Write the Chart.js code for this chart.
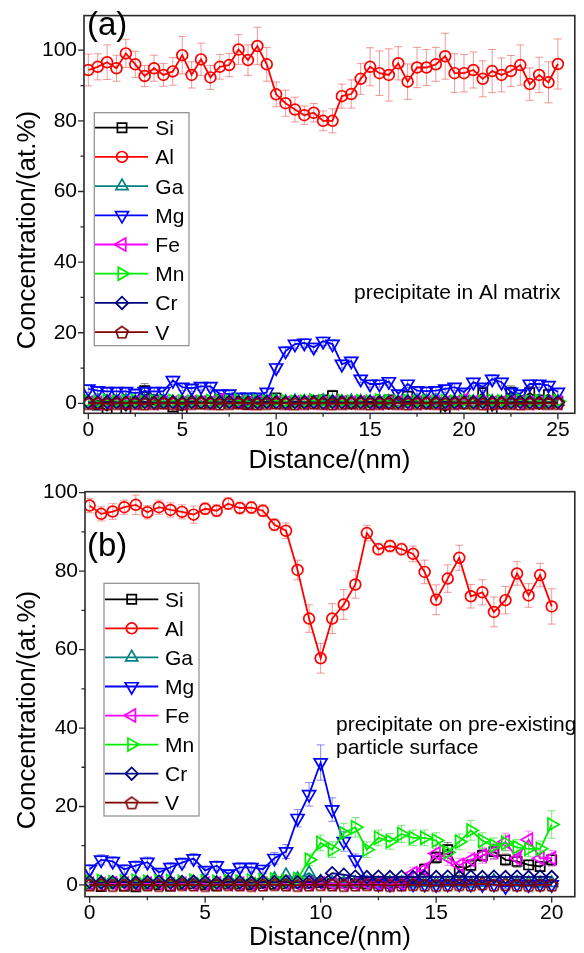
<!DOCTYPE html>
<html>
<head>
<meta charset="utf-8">
<title>Concentration profiles</title>
<script src="https://cdn.jsdelivr.net/npm/chart.js@4.4.1/dist/chart.umd.min.js"></script>
<style>
  html, body { margin: 0; padding: 0; background: #fff; }
  #wrap { position: relative; width: 584px; height: 953px; }
  .panel { position: absolute; left: 0; width: 584px; }
  #pa { top: 0; height: 476px; }
  #pb { top: 476px; height: 477px; }
  canvas { display: block; }
</style>
</head>
<body>
<div id="wrap">
  <div class="panel" id="pa"><canvas id="ca" width="584" height="476"></canvas></div>
  <div class="panel" id="pb"><canvas id="cb" width="584" height="477"></canvas></div>
</div>
<script>
// ---------- data: panel (a), precipitate in Al matrix ----------
const distA = [0,0.5,1,1.5,2,2.5,3,3.5,4,4.5,5,5.5,6,6.5,7,7.5,8,8.5,9,9.5,10,10.5,11,11.5,12,12.5,13,13.5,14,14.5,15,15.5,16,16.5,17,17.5,18,18.5,19,19.5,20,20.5,21,21.5,22,22.5,23,23.5,24,24.5,25];
const siA = [0.5,-0.5,-2.0,0.3,-2.0,0.5,3.6,1.0,0.2,-1.0, -2.0,0.4,0.6,0.2,1.2,0.3,0.1,-0.3,0.2,0.5, 1.5,0.2,0.4,0.3,0.8,1.0,2.2,0.6,0.3,0.5, 0.4,0.2,1.0,0.3,2.0,0.6,0.4,0.3,-2.2,0.5, 0.8,0.3,3.0,-2.0,0.5,3.2,0.8,3.0,1.0,2.5, 0.5];
const siAErr = [1.2,1.0,1.5,1.0,1.5,1.0,2.0,1.2,1.0,1.2, 1.5,1.0,1.2,1.0,1.2,1.0,1.0,1.2,1.0,1.0, 1.5,1.0,1.2,1.0,1.2,1.2,1.5,1.0,1.0,1.2, 1.0,1.0,1.2,1.0,1.5,1.0,1.0,1.0,1.5,1.0, 1.2,1.0,1.8,1.5,1.0,1.8,1.2,1.8,1.2,1.5, 1.0];
const alA = [94.4,95.3,96.6,94.9,99.1,96.0,92.7,94.9,93.0,94.0, 98.6,93.0,97.4,92.3,95.3,95.8,100.2,97.2,101.2,96.0, 87.5,85.0,83.2,81.6,82.3,80.0,80.0,87.0,87.6,91.9, 95.3,93.5,93.0,96.3,91.1,95.1,95.1,96.0,98.3,93.5, 93.5,94.4,91.9,94.1,93.0,94.1,95.8,90.4,93.0,90.9, 96.1];
const alAErr = [4.5,3.7,4.9,3.7,4.0,3.7,3.0,3.7,3.2,3.9, 5.3,3.7,4.6,3.4,3.5,3.3,4.2,4.3,5.3,4.8, 3.5,3.7,3.5,2.6,2.6,2.8,3.4,3.4,4.0,4.4, 5.4,6.3,7.4,4.7,5.0,5.7,5.1,4.8,6.5,5.5, 5.3,5.1,5.1,6.1,4.8,4.4,5.7,4.6,5.0,5.8, 7.1];
const gaA = [0.4,0.6,0.3,0.5,0.7,0.4,0.5,0.3,0.6,0.4, 0.5,0.7,0.4,0.3,0.6,0.5,0.4,0.6,0.3,0.5, 0.8,0.4,0.6,0.5,0.3,0.7,0.5,0.4,0.6,0.5, 0.4,0.6,0.5,0.3,0.7,0.4,0.5,0.6,0.4,0.5, 0.6,0.4,0.7,0.5,0.3,0.6,0.4,0.5,0.6,0.4, 0.5];
const mgA = [4.1,3.6,3.4,3.4,3.4,2.9,3.4,3.4,3.4,6.5, 4.6,4.3,4.8,4.8,2.7,2.7,1.8,1.8,1.8,3.2, 10.1,14.8,16.8,17.1,15.9,17.6,16.8,11.1,12.0,6.9, 5.5,5.5,6.2,2.7,5.5,3.6,3.5,3.6,4.1,4.6, 3.2,6.0,4.6,6.9,6.0,3.2,2.7,5.5,5.5,5.1, 3.2];
const mgAErr = [1.0,0.9,0.9,1.0,0.9,0.8,0.9,1.0,0.9,1.2, 1.0,0.9,1.1,1.0,0.8,0.8,0.7,0.7,0.7,0.9, 1.2,1.3,1.2,1.2,1.2,1.2,1.2,1.1,1.1,1.0, 0.9,0.9,1.0,0.8,1.0,0.9,0.9,0.9,1.0,1.0, 0.9,1.1,1.0,1.2,1.1,0.9,0.8,1.0,1.0,1.0, 0.9];
const feA = [0.2,0.1,0.3,0.2,0.1,0.2,0.3,0.1,0.2,0.2, 0.1,0.3,0.2,0.2,1.0,0.3,0.2,0.1,0.2,0.3, 0.2,0.1,0.3,0.2,0.2,0.1,0.3,0.2,0.2,0.3, 0.2,0.1,0.2,0.3,0.2,0.1,0.2,0.3,0.2,0.1, 1.0,0.3,0.2,0.1,0.2,0.3,0.2,0.1,0.2,0.3, 0.2];
const mnA = [0.6,0.4,0.8,0.5,0.6,0.7,0.4,0.6,0.5,0.7, 0.6,0.5,0.4,0.7,0.6,0.5,0.8,0.4,0.6,0.5, 0.7,0.6,0.4,0.5,0.8,0.6,0.5,0.7,0.4,0.6, 0.5,0.8,0.6,0.4,0.7,0.5,0.6,0.4,0.7,0.5, 0.6,0.4,0.5,0.7,0.6,0.4,0.8,0.5,0.6,0.4, 0.6];
const crA = [0.3,0.2,0.4,0.3,0.2,0.3,0.4,0.2,0.3,0.3, 0.2,0.4,0.3,0.2,0.3,0.4,0.3,0.2,0.3,0.4, 0.3,0.2,0.4,0.3,0.3,0.2,0.4,0.3,0.2,0.3, 0.4,0.3,0.2,0.3,0.4,0.3,0.2,0.3,0.4,0.3, 0.2,0.3,0.4,0.3,0.2,0.3,0.4,0.3,0.2,0.3, 0.3];
const vA = [0.0,0.1,-0.1,0.0,0.1,0.0,-0.1,0.0,0.1,0.0, -0.1,0.0,0.1,0.0,-0.1,0.0,0.1,0.0,-0.1,0.0, 0.1,0.0,-0.1,0.0,0.1,0.0,-0.1,0.0,0.1,0.0, -0.1,0.0,0.1,0.0,-0.1,0.0,0.1,0.0,-0.1,0.0, 0.1,0.0,-0.1,0.0,0.1,0.0,-0.1,0.0,0.1,0.0, 0.0];

// ---------- data: panel (b), precipitate on pre-existing particle surface ----------
const distB = [0,0.5,1,1.5,2,2.5,3,3.5,4,4.5,5,5.5,6,6.5,7,7.5,8,8.5,9,9.5,10,10.5,11,11.5,12,12.5,13,13.5,14,14.5,15,15.5,16,16.5,17,17.5,18,18.5,19,19.5,20];
const siB = [0.2,-0.4,0.3,-0.3,-0.5,0.2,0.1,-0.3,0.2,0.3, 0.1,-0.2,0.3,0.2,0.1,0.4,0.2,0.3,0.5,0.4, 0.6,0.3,0.5,0.4,0.3,0.5,0.4,0.6,0.8,4.0, 7.0,9.0,3.4,5.0,7.5,8.5,6.4,6.0,5.1,4.7, 6.4];
const siBErr = [0.4,0.4,0.4,0.4,0.4,0.4,0.4,0.4,0.4,0.4, 0.4,0.4,0.4,0.4,0.4,0.4,0.4,0.4,0.4,0.4, 0.4,0.4,0.4,0.4,0.4,0.4,0.4,0.4,0.6,1.2, 1.5,1.8,1.2,1.5,1.5,1.8,1.5,1.5,1.2,1.2, 1.5];
const alB = [96.7,94.6,95.2,96.3,96.9,95.0,96.3,95.6,95.1,94.4, 95.9,95.4,97.2,96.1,96.2,95.4,91.8,90.3,80.3,67.9, 57.8,67.9,71.5,76.6,89.7,85.6,86.4,85.6,84.4,79.8, 72.7,78.1,83.4,73.6,74.6,69.6,72.6,79.4,73.8,79.0, 71.0];
const alBErr = [1.8,1.8,2.0,1.8,2.5,1.7,1.8,1.8,1.8,2.2, 1.5,1.5,1.5,1.5,1.5,1.5,1.5,2.0,2.5,3.5, 3.8,3.8,3.8,3.5,2.0,1.5,1.5,1.5,2.0,3.0, 3.8,3.5,3.2,3.0,3.2,3.8,3.5,3.0,3.0,3.0, 4.5];
const gaB = [0.5,0.6,0.4,0.5,0.6,0.5,0.4,0.6,0.5,0.6, 0.5,0.4,0.6,0.5,0.5,0.6,1.5,2.5,1.5,3.0, 0.8,0.6,0.5,0.6,0.5,0.4,0.6,0.5,0.5,0.6, 0.5,0.6,0.5,0.4,0.6,1.0,0.5,0.6,0.5,0.4, 0.5];
const mgB = [4.0,6.4,6.0,4.0,4.9,5.8,3.2,4.5,5.7,6.7, 3.7,4.9,2.8,4.5,4.5,4.0,6.8,8.5,17.0,23.1, 31.2,19.2,11.1,6.4,1.2,0.3,0.2,0.4,0.3,0.2, 0.1,0.2,0.3,0.2,0.1,0.2,-0.4,0.2,0.1,0.2, 0.1];
const mgBErr = [1.2,1.3,1.2,1.2,1.2,1.3,1.0,1.2,1.2,1.3, 1.0,1.2,1.0,1.2,1.2,1.0,1.5,1.8,2.2,3.0, 4.5,3.0,2.5,1.5,0.5,0.5,0.5,0.5,0.5,0.5, 0.5,0.5,0.5,0.5,0.5,0.5,0.5,0.5,0.5,0.5, 0.5];
const feB = [0.3,0.2,0.4,0.3,0.2,0.3,0.4,0.2,0.3,0.2, 0.3,0.4,0.2,0.3,0.2,0.3,0.4,0.3,0.2,0.3, 0.4,0.3,0.2,0.3,0.4,0.3,0.2,0.3,3.0,4.0, 8.0,7.0,5.0,6.4,7.5,8.5,11.0,6.8,11.5,6.8, 6.8];
const feBErr = [0.3,0.3,0.3,0.3,0.3,0.3,0.3,0.3,0.3,0.3, 0.3,0.3,0.3,0.3,0.3,0.3,0.3,0.3,0.3,0.3, 0.3,0.3,0.3,0.3,0.3,0.3,0.3,0.3,1.5,1.5, 2.0,2.0,1.8,1.8,2.0,2.0,2.2,1.8,2.2,2.0, 2.0];
const mnB = [0.8,1.0,0.7,0.9,1.1,0.8,0.9,1.0,0.8,1.1, 0.9,0.8,1.0,0.9,1.1,1.2,1.4,1.0,1.5,6.4, 10.7,9.0,13.2,14.7,9.0,12.0,11.1,13.0,12.0,12.0, 11.3,8.3,11.0,13.9,11.3,10.0,10.7,9.6,9.2,9.2, 15.4];
const mnBErr = [0.5,0.5,0.5,0.5,0.5,0.5,0.5,0.5,0.5,0.5, 0.5,0.5,0.5,0.5,0.5,0.5,0.6,0.6,0.8,1.5, 2.0,2.0,2.5,2.5,2.0,2.0,2.0,2.2,2.0,2.0, 2.0,2.0,2.0,2.5,2.0,2.0,2.0,2.0,2.0,2.0, 3.5];
const crB = [0.8,0.6,0.7,0.8,0.6,0.7,0.8,0.6,0.7,0.8, 0.7,0.6,0.8,0.7,0.6,0.8,0.7,0.8,0.7,0.8, 0.9,3.0,2.6,2.1,2.0,2.1,2.0,2.1,2.0,2.1, 2.0,2.1,2.0,2.1,2.0,2.1,2.0,2.1,2.0,2.1, 2.0];
const vB = [0.0,0.1,-0.1,0.0,0.1,0.0,-0.1,0.0,0.1,0.0, -0.1,0.0,0.1,0.0,-0.1,0.0,0.1,0.0,-0.1,0.0, 0.1,0.0,-0.1,0.0,0.1,0.0,-0.1,0.0,0.1,0.0, -0.1,0.0,0.1,0.0,0.3,0.0,0.1,0.0,-0.1,0.0, 0.0];

// ---------- series order and appearance ----------
const elements = ['Si', 'Al', 'Ga', 'Mg', 'Fe', 'Mn', 'Cr', 'V'];

function pentagonMarker(color, r, lw) {
  const s = Math.ceil(2 * r + 2 * lw + 2);
  const c = document.createElement('canvas');
  c.width = s; c.height = s;
  const g = c.getContext('2d');
  g.strokeStyle = color; g.lineWidth = lw; g.lineJoin = 'miter';
  g.beginPath();
  for (let i = 0; i < 5; i++) {
    const a = -Math.PI / 2 + i * 2 * Math.PI / 5;
    const px = s / 2 + r * Math.cos(a), py = s / 2 + r * Math.sin(a) + r * 0.1;
    if (i === 0) g.moveTo(px, py); else g.lineTo(px, py);
  }
  g.closePath(); g.stroke();
  return c;
}

const look = {
  Si: { color: '#000000', point: 'rect',     r: 6.5, rot: 0,   err: 'rgba(50,50,50,0.55)' },
  Al: { color: '#FF0000', point: 'circle',   r: 5.4, rot: 0,   err: 'rgba(232,70,70,0.55)' },
  Ga: { color: '#008080', point: 'triangle', r: 7,   rot: 0,   err: 'rgba(0,128,128,0.5)' },
  Mg: { color: '#0000FF', point: 'triangle', r: 7.5, rot: 180, err: 'rgba(40,40,235,0.55)' },
  Fe: { color: '#FF00FF', point: 'triangle', r: 7.5, rot: 270, err: 'rgba(235,60,235,0.55)' },
  Mn: { color: '#00EE00', point: 'triangle', r: 7.5, rot: 90,  err: 'rgba(40,220,40,0.6)' },
  Cr: { color: '#000080', point: 'rectRot',  r: 6.3, rot: 0,   err: 'rgba(0,0,128,0.5)' },
  V:  { color: '#800000', point: null,       r: 6.3, rot: 0,   err: 'rgba(128,0,0,0.5)' }
};
look.V.point = pentagonMarker(look.V.color, 6.3, 1.7);

const FONT = '"Liberation Sans", Arial, Helvetica, sans-serif';
Chart.defaults.font.family = FONT;
Chart.defaults.color = '#000';

// ---------- frame, ticks, error bars, legend and labels ----------
function drawMarker(ctx, st, x, y) {
  ctx.save();
  ctx.strokeStyle = st.color;
  ctx.fillStyle = 'rgba(0,0,0,0)';
  ctx.lineWidth = 1.7;
  if (Chart.helpers && Chart.helpers.drawPoint) {
    Chart.helpers.drawPoint(ctx, { pointStyle: st.point, radius: st.r, rotation: st.rot, borderWidth: 1.7 }, x, y);
  }
  ctx.restore();
}

const decor = {
  id: 'decor',
  beforeDatasetsDraw(chart) {
    const ctx = chart.ctx, area = chart.chartArea, ys = chart.scales.y;
    ctx.save();
    ctx.beginPath();
    ctx.rect(area.left, area.top, area.right - area.left, area.bottom - area.top);
    ctx.clip();
    chart.data.datasets.forEach((ds, i) => {
      if (!ds.errors) return;
      const meta = chart.getDatasetMeta(i);
      ctx.strokeStyle = ds.errorColor;
      ctx.lineWidth = 1;
      ctx.beginPath();
      meta.data.forEach((pt, j) => {
        const e = ds.errors[j];
        if (!e) return;
        const v = ds.data[j].y;
        const yt = ys.getPixelForValue(v + e), yb = ys.getPixelForValue(v - e);
        const x = pt.x;
        ctx.moveTo(x, yt); ctx.lineTo(x, yb);
        ctx.moveTo(x - 4, yt); ctx.lineTo(x + 4, yt);
        ctx.moveTo(x - 4, yb); ctx.lineTo(x + 4, yb);
      });
      ctx.stroke();
    });
    ctx.restore();
  },
  afterDraw(chart, args, o) {
    const ctx = chart.ctx, a = chart.chartArea;
    const xs = chart.scales.x, ys = chart.scales.y;
    ctx.save();

    // plot frame
    ctx.strokeStyle = '#2a2a2a';
    ctx.lineWidth = 1.6;
    ctx.strokeRect(a.left, a.top, a.right - a.left, a.bottom - a.top);

    // outward major/minor ticks
    ctx.lineWidth = 1.3;
    ctx.beginPath();
    xs.ticks.forEach(t => {
      const major = Math.abs(t.value % o.xMajor) < 1e-6;
      const px = xs.getPixelForValue(t.value), len = major ? 6 : 3.5;
      ctx.moveTo(px, a.bottom); ctx.lineTo(px, a.bottom + len);
    });
    ys.ticks.forEach(t => {
      const major = Math.abs(t.value % o.yMajor) < 1e-6;
      const py = ys.getPixelForValue(t.value), len = major ? 6 : 3.5;
      ctx.moveTo(a.left, py); ctx.lineTo(a.left - len, py);
    });
    ctx.stroke();

    // legend box
    const L = o.legend;
    ctx.fillStyle = '#fff';
    ctx.fillRect(L.left, L.top, L.right - L.left, L.bottom - L.top);
    ctx.strokeStyle = '#8c8c8c';
    ctx.lineWidth = 1.2;
    ctx.strokeRect(L.left, L.top, L.right - L.left, L.bottom - L.top);
    elements.forEach((name, k) => {
      const st = look[name];
      const y = L.row0 + k * L.rowStep;
      ctx.strokeStyle = st.color;
      ctx.lineWidth = 1.8;
      ctx.beginPath(); ctx.moveTo(L.lineX1, y); ctx.lineTo(L.lineX2, y); ctx.stroke();
      drawMarker(ctx, st, L.markX, y);
      ctx.fillStyle = '#000';
      ctx.font = '21px ' + FONT;
      ctx.textAlign = 'left';
      ctx.textBaseline = 'alphabetic';
      ctx.fillText(name, L.textX, y + 7.5);
    });

    // panel tag and note
    ctx.fillStyle = '#000';
    ctx.textAlign = 'left';
    ctx.textBaseline = 'alphabetic';
    ctx.font = '33px ' + FONT;
    ctx.fillText(o.tag.text, o.tag.x, o.tag.y);
    ctx.font = '21px ' + FONT;
    o.notes.forEach(n => ctx.fillText(n.text, n.x, n.y));

    // vertical axis title
    ctx.translate(o.yTitle.x, o.yTitle.y);
    ctx.rotate(-Math.PI / 2);
    ctx.textAlign = 'center';
    ctx.font = '26px ' + FONT;
    ctx.fillText('Concentration/(at.%)', 0, 0);
    ctx.restore();
  }
};

function makePanel(canvasId, p) {
  const datasets = elements.map((name, k) => {
    const st = look[name];
    return {
      label: name,
      data: p.x.map((x, i) => ({ x: x, y: p.values[name][i] })),
      errors: p.errors[name] || null,
      errorColor: st.err,
      showLine: true,
      borderColor: st.color,
      backgroundColor: 'rgba(0,0,0,0)',
      borderWidth: 1.8,
      pointStyle: st.point,
      pointRotation: st.rot,
      pointRadius: st.r,
      pointHoverRadius: st.r,
      pointBorderColor: st.color,
      pointBackgroundColor: 'rgba(0,0,0,0)',
      pointBorderWidth: 1.7,
      order: elements.length - k   // later elements are drawn on top
    };
  });

  return new Chart(document.getElementById(canvasId), {
    type: 'scatter',
    data: { datasets: datasets },
    plugins: [decor],
    options: {
      responsive: false,
      animation: false,
      events: [],
      layout: { padding: p.padding },
      plugins: {
        legend: { display: false },
        tooltip: { enabled: false },
        decor: p.decor
      },
      scales: {
        x: {
          type: 'linear', min: p.xMin, max: p.xMax,
          border: { display: false },
          grid: { display: false, drawTicks: true, tickLength: 4 },
          ticks: {
            stepSize: 2.5, includeBounds: false, maxTicksLimit: 100, autoSkip: false,
            maxRotation: 0, padding: 0, color: '#000', font: { size: 21 },
            callback: v => (Math.abs(v % 5) < 1e-6 ? String(v) : '')
          },
          title: { display: true, text: 'Distance/(nm)', color: '#000', font: { size: 26 }, padding: { top: 0, bottom: 0 } },
          afterFit: s => { s.height = p.xAxisHeight; }
        },
        y: {
          type: 'linear', min: p.yMin, max: p.yMax,
          border: { display: false },
          grid: { display: false, drawTicks: true, tickLength: 4 },
          ticks: {
            stepSize: 10, includeBounds: false, maxTicksLimit: 100, autoSkip: false,
            padding: 3, color: '#000', font: { size: 21 },
            callback: v => (Math.abs(v % 20) < 1e-6 ? String(v) : '')
          },
          afterFit: s => { s.width = p.yAxisWidth; }
        }
      }
    }
  });
}

makePanel('ca', {
  x: distA,
  values: { Si: siA, Al: alA, Ga: gaA, Mg: mgA, Fe: feA, Mn: mnA, Cr: crA, V: vA },
  errors: { Si: siAErr, Al: alAErr, Mg: mgAErr },
  xMin: -0.23, xMax: 25.9, yMin: -2.8, yMax: 109.8,
  padding: { left: 0, top: 10, right: 2.3, bottom: 0 },
  yAxisWidth: 84, xAxisHeight: 62.7,
  decor: {
    xMajor: 5, yMajor: 20,
    legend: { left: 94.3, top: 112.7, right: 189, bottom: 345.7, row0: 127.7, rowStep: 29.2, lineX1: 95, lineX2: 148, markX: 122, textX: 155.3 },
    tag: { text: '(a)', x: 87, y: 35 },
    notes: [{ text: 'precipitate in Al matrix', x: 354, y: 299 }],
    yTitle: { x: 35, y: 230 }
  }
});

makePanel('cb', {
  x: distB,
  values: { Si: siB, Al: alB, Ga: gaB, Mg: mgB, Fe: feB, Mn: mnB, Cr: crB, V: vB },
  errors: { Si: siBErr, Al: alBErr, Mg: mgBErr, Fe: feBErr, Mn: mnBErr },
  xMin: -0.2, xMax: 21, yMin: -3, yMax: 100.25,
  padding: { left: 0, top: 15.7, right: 2, bottom: 0 },
  yAxisWidth: 85, xAxisHeight: 56.3,
  decor: {
    xMajor: 5, yMajor: 20,
    legend: { left: 104, top: 107.3, right: 199, bottom: 340, row0: 123.3, rowStep: 29.06, lineX1: 105, lineX2: 158.3, markX: 131.7, textX: 165 },
    tag: { text: '(b)', x: 87, y: 80 },
    notes: [
      { text: 'precipitate on pre-existing', x: 336, y: 254.6 },
      { text: 'particle surface', x: 336, y: 278 }
    ],
    yTitle: { x: 35, y: 234 }
  }
});
</script>
</body>
</html>
